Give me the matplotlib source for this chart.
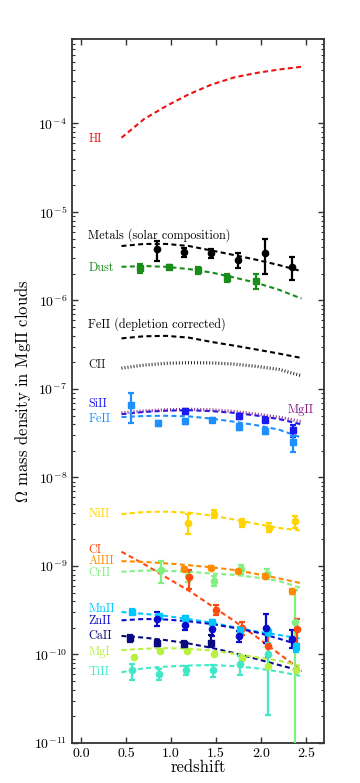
import numpy as np
import matplotlib
matplotlib.use("Agg")
import matplotlib.pyplot as plt
from matplotlib.ticker import LogLocator, NullFormatter, FixedLocator

plt.rcParams['font.family'] = 'serif'
plt.rcParams['font.serif'] = ['cmr10', 'DejaVu Serif']
plt.rcParams['mathtext.fontset'] = 'cm'
plt.rcParams['axes.formatter.use_mathtext'] = True

# ---------------- model curves (redshift grid) ----------------
z_model = [0.45, 0.70, 0.95, 1.20, 1.45, 1.70, 1.95, 2.20, 2.45]

HI_model     = [6.9e-5, 1.12e-4, 1.58e-4, 2.14e-4, 2.75e-4, 3.31e-4, 3.72e-4, 4.07e-4, 4.37e-4]
Metals_model = [4.12e-6, 4.35e-6, 4.35e-6, 4.12e-6, 3.67e-6, 3.26e-6, 2.88e-6, 2.51e-6, 2.14e-6]
Dust_model   = [2.40e-6, 2.45e-6, 2.40e-6, 2.26e-6, 2.07e-6, 1.82e-6, 1.58e-6, 1.32e-6, 1.05e-6]
FeIIdep_model= [3.73e-7, 3.94e-7, 3.98e-7, 3.80e-7, 3.40e-7, 3.09e-7, 2.79e-7, 2.51e-7, 2.24e-7]
CII_model    = [1.72e-7, 1.86e-7, 1.95e-7, 1.98e-7, 1.97e-7, 1.91e-7, 1.80e-7, 1.66e-7, 1.41e-7]
MgII_model   = [5.37e-8, 5.65e-8, 5.82e-8, 5.89e-8, 5.82e-8, 5.56e-8, 5.19e-8, 4.79e-8, 4.27e-8]
SiII_model   = [5.19e-8, 5.50e-8, 5.69e-8, 5.75e-8, 5.62e-8, 5.37e-8, 5.01e-8, 4.57e-8, 3.98e-8]
FeII_model   = [4.81e-8, 4.95e-8, 4.98e-8, 4.90e-8, 4.62e-8, 4.27e-8, 3.89e-8, 3.47e-8, 2.82e-8]
NiII_model   = [3.85e-9, 4.07e-9, 4.11e-9, 4.00e-9, 3.72e-9, 3.35e-9, 2.99e-9, 2.69e-9, 2.51e-9]
CI_model     = [1.45e-9, 1.05e-9, 7.4e-10, 5.25e-10, 3.55e-10, 2.4e-10, 1.58e-10, 1.02e-10, 6.6e-11]
AlIII_model  = [1.135e-9, 1.11e-9, 1.07e-9, 1.02e-9, 9.66e-10, 9.02e-10, 8.13e-10, 7.24e-10, 6.38e-10]
CrII_model   = [8.61e-10, 8.87e-10, 8.81e-10, 8.61e-10, 8.22e-10, 7.94e-10, 7.41e-10, 6.76e-10, 5.62e-10]
MnII_model   = [3.02e-10, 2.88e-10, 2.72e-10, 2.51e-10, 2.29e-10, 2.04e-10, 1.82e-10, 1.66e-10, 1.51e-10]
ZnII_model   = [2.43e-10, 2.52e-10, 2.48e-10, 2.37e-10, 2.21e-10, 2.00e-10, 1.78e-10, 1.51e-10, 1.26e-10]
CaII_model   = [1.62e-10, 1.55e-10, 1.45e-10, 1.33e-10, 1.19e-10, 1.04e-10, 8.9e-11, 7.6e-11, 6.5e-11]
MgI_model    = [1.12e-10, 1.16e-10, 1.18e-10, 1.16e-10, 1.11e-10, 1.02e-10, 9.3e-11, 8.5e-11, 7.4e-11]
TiII_model   = [6.3e-11, 7.0e-11, 7.3e-11, 7.5e-11, 7.6e-11, 7.4e-11, 7.0e-11, 6.4e-11, 5.7e-11]

# ---------------- measurements ----------------
Metals_z  = [0.85, 1.15, 1.44, 1.75, 2.05, 2.35]
Metals_v  = [3.8e-6, 3.5e-6, 3.4e-6, 2.9e-6, 3.45e-6, 2.4e-6]
Metals_hi = [4.7e-6, 3.95e-6, 3.8e-6, 3.4e-6, 4.9e-6, 3.1e-6]
Metals_lo = [2.8e-6, 3.1e-6, 3.0e-6, 2.35e-6, 2.0e-6, 1.7e-6]

Dust_z  = [0.66, 0.98, 1.30, 1.62, 1.94]
Dust_v  = [2.3e-6, 2.4e-6, 2.2e-6, 1.8e-6, 1.65e-6]
Dust_hi = [2.55e-6, 2.5e-6, 2.4e-6, 1.98e-6, 1.98e-6]
Dust_lo = [2.02e-6, 2.25e-6, 1.98e-6, 1.6e-6, 1.33e-6]

SiII_z  = [1.16, 1.76, 2.05, 2.36]
SiII_v  = [5.6e-8, 4.9e-8, 4.5e-8, 3.45e-8]
SiII_hi = [6.0e-8, 5.2e-8, 4.8e-8, 3.9e-8]
SiII_lo = [5.2e-8, 4.6e-8, 4.2e-8, 2.9e-8]

FeII_z  = [0.56, 0.86, 1.16, 1.46, 1.76, 2.05, 2.36]
FeII_v  = [6.6e-8, 4.1e-8, 4.3e-8, 4.45e-8, 3.7e-8, 3.35e-8, 2.5e-8]
FeII_hi = [8.9e-8, 4.4e-8, 4.6e-8, 4.7e-8, 4.0e-8, 3.6e-8, 2.95e-8]
FeII_lo = [4.1e-8, 3.8e-8, 4.0e-8, 4.2e-8, 3.4e-8, 3.1e-8, 1.95e-8]

NiII_z  = [1.19, 1.48, 1.79, 2.09, 2.38]
NiII_v  = [3.07e-9, 3.87e-9, 3.07e-9, 2.7e-9, 3.2e-9]
NiII_hi = [3.9e-9, 4.25e-9, 3.4e-9, 3.02e-9, 3.65e-9]
NiII_lo = [2.31e-9, 3.49e-9, 2.74e-9, 2.41e-9, 2.7e-9]

CI_z  = [1.20, 1.50, 1.79, 2.08, 2.40]
CI_v  = [7.5e-10, 3.2e-10, 1.98e-10, 1.25e-10, 1.94e-10]
CI_hi = [9.0e-10, 3.65e-10, 2.35e-10, 1.6e-10, 2.5e-10]
CI_lo = [5.5e-10, 2.8e-10, 1.65e-10, 9.3e-11, 1.3e-10]

AlIII_z  = [1.15, 1.44, 1.75, 2.05, 2.35]
AlIII_v  = [9.3e-10, 9.6e-10, 8.7e-10, 7.7e-10, 5.15e-10]
AlIII_hi = [9.7e-10, 1.0e-9, 9.1e-10, 8.1e-10, 5.5e-10]
AlIII_lo = [8.9e-10, 9.2e-10, 8.3e-10, 7.35e-10, 4.8e-10]

CrII_z  = [0.885, 1.185, 1.48, 1.78, 2.07, 2.38]
CrII_v  = [8.9e-10, 7.7e-10, 6.8e-10, 9.2e-10, 8.2e-10, 2.35e-10]
CrII_hi = [1.14e-9, 8.8e-10, 7.7e-10, 1.03e-9, 9.3e-10, 5.3e-10]
CrII_lo = [6.4e-10, 6.6e-10, 5.9e-10, 8.1e-10, 7.2e-10, 1e-13]

MnII_z  = [0.57, 0.87, 1.16, 1.46, 1.77, 2.08, 2.39]
MnII_v  = [3.05e-10, 2.7e-10, 2.56e-10, 2.3e-10, 1.9e-10, 1.78e-10, 1.2e-10]
MnII_hi = [3.25e-10, 2.9e-10, 2.7e-10, 2.45e-10, 2.05e-10, 1.95e-10, 1.32e-10]
MnII_lo = [2.85e-10, 2.5e-10, 2.42e-10, 2.15e-10, 1.75e-10, 1.62e-10, 1.08e-10]

ZnII_z  = [0.85, 1.16, 1.46, 1.76, 2.06, 2.35]
ZnII_v  = [2.5e-10, 2.15e-10, 1.94e-10, 1.63e-10, 2.0e-10, 1.5e-10]
ZnII_hi = [3.0e-10, 2.47e-10, 2.3e-10, 1.86e-10, 2.85e-10, 1.88e-10]
ZnII_lo = [2.1e-10, 1.9e-10, 1.62e-10, 1.38e-10, 1.35e-10, 1.17e-10]

CaII_z  = [0.54, 0.85, 1.15, 1.45]
CaII_v  = [1.52e-10, 1.35e-10, 1.3e-10, 1.35e-10]
CaII_hi = [1.65e-10, 1.45e-10, 1.42e-10, 1.68e-10]
CaII_lo = [1.40e-10, 1.26e-10, 1.2e-10, 1.2e-10]

MgI_z = [0.59, 0.88, 1.18, 1.48, 1.79, 2.08, 2.39]
MgI_v = [9.4e-11, 1.1e-10, 1.1e-10, 1.02e-10, 9.2e-11, 7.4e-11, 6.6e-11]

TiII_z  = [0.57, 0.87, 1.17, 1.47, 1.77, 2.08]
TiII_v  = [6.6e-11, 6.0e-11, 6.6e-11, 6.7e-11, 7.8e-11, 1.02e-10]
TiII_hi = [7.8e-11, 6.9e-11, 7.4e-11, 7.6e-11, 9.7e-11, 1.35e-10]
TiII_lo = [5.1e-11, 5.2e-11, 5.8e-11, 5.5e-11, 5.9e-11, 2.05e-11]

# labels
label_names = ["HI", "Metals (solar composition)", "Dust", "FeII (depletion corrected)",
               "CII", "SiII", "FeII", "NiII", "CI", "AlIII", "CrII", "MnII", "ZnII",
               "CaII", "MgI", "TiII"]
label_y = [6.6e-5, 5.5e-6, 2.35e-6, 5.4e-7, 1.85e-7, 6.7e-8, 4.6e-8, 3.84e-9, 1.5e-9,
           1.14e-9, 8.3e-10, 3.26e-10, 2.4e-10, 1.6e-10, 1.06e-10, 6.3e-11]

C = dict(HI='#ee1111', Metals='black', Dust='#1a8c1a', FeIIdep='black', CII='#222222',
         MgII='#8b1a8b', SiII='#1a1aee', FeII='#1e8fff', NiII='#ffd400', CI='#ff4a10',
         AlIII='#ff8a00', CrII='#80f080', MnII='#00c8ff', ZnII='#0a0acd', CaII='#0a0a80',
         MgI='#b8f040', TiII='#40e8c8')
label_colors = [C['HI'], C['Metals'], C['Dust'], C['FeIIdep'], C['CII'], C['SiII'], C['FeII'],
                C['NiII'], C['CI'], C['AlIII'], C['CrII'], C['MnII'], C['ZnII'], C['CaII'],
                C['MgI'], C['TiII']]

fig = plt.figure(figsize=(3.6, 7.83), dpi=100)
ax = fig.add_axes([0.2, 0.0511, 0.7, 0.8991])
ax.set_yscale('log')

dash = (0, (2.4, 1.6))
def curve(vals, col, ls=dash, lw=1.5, z=3):
    ax.plot(z_model, vals, color=col, ls=ls, lw=lw, zorder=z)

dots = (0, (0.3, 0.65))
curve(HI_model, C['HI'])
curve(Metals_model, C['Metals'])
curve(Dust_model, C['Dust'])
curve(FeIIdep_model, C['FeIIdep'])
curve(CII_model, C['CII'], ls=dots, lw=2.3)
curve(SiII_model, C['SiII'])
curve(MgII_model, C['MgII'], ls=dots, lw=2.3, z=3.5)
curve(FeII_model, C['FeII'])
curve(NiII_model, C['NiII'])
curve(CI_model, C['CI'])
curve(AlIII_model, C['AlIII'])
curve(CrII_model, C['CrII'])
curve(MnII_model, C['MnII'])
curve(ZnII_model, C['ZnII'])
curve(CaII_model, C['CaII'])
curve(MgI_model, C['MgI'])
curve(TiII_model, C['TiII'])

def pts(zs, v, hi, lo, col, mk='o', ms=4.5):
    v = np.array(v); hi = np.array(hi); lo = np.array(lo)
    ax.errorbar(zs, v, yerr=[v - lo, hi - v], fmt=mk, color=col, ms=ms, mec=col,
                elinewidth=1.6, capsize=2.5, capthick=1.6, zorder=5)

pts(Metals_z, Metals_v, Metals_hi, Metals_lo, C['Metals'])
pts(Dust_z, Dust_v, Dust_hi, Dust_lo, C['Dust'], 's', 4.2)
pts(SiII_z, SiII_v, SiII_hi, SiII_lo, C['SiII'], 's', 4.2)
pts(FeII_z, FeII_v, FeII_hi, FeII_lo, C['FeII'], 's', 4.2)
pts(NiII_z, NiII_v, NiII_hi, NiII_lo, C['NiII'])
pts(CrII_z, CrII_v, CrII_hi, CrII_lo, C['CrII'])
pts(AlIII_z, AlIII_v, AlIII_hi, AlIII_lo, C['AlIII'])
pts(CI_z, CI_v, CI_hi, CI_lo, C['CI'])
pts(MnII_z, MnII_v, MnII_hi, MnII_lo, C['MnII'], 's', 4.2)
pts(ZnII_z, ZnII_v, ZnII_hi, ZnII_lo, C['ZnII'])
pts(CaII_z, CaII_v, CaII_hi, CaII_lo, C['CaII'], 's', 4.2)
pts(TiII_z, TiII_v, TiII_hi, TiII_lo, C['TiII'])
ax.plot(MgI_z, MgI_v, 'o', color=C['MgI'], ms=4.5, zorder=5)

for name, yv, col in zip(label_names, label_y, label_colors):
    ax.text(0.08, yv, name, color=col, fontsize=8.8, ha='left', va='center')
ax.text(2.30, 5.85e-8, "MgII", color=C['MgII'], fontsize=8.8, ha='left', va='center')

ax.set_xlim(-0.1, 2.7)
ax.set_ylim(1e-11, 9e-4)
ax.xaxis.set_major_locator(FixedLocator([0.0, 0.5, 1.0, 1.5, 2.0, 2.5]))
ax.set_xticklabels(["0.0", "0.5", "1.0", "1.5", "2.0", "2.5"])
ax.yaxis.set_major_locator(LogLocator(base=10, numticks=20))
ax.yaxis.set_minor_locator(LogLocator(base=10, subs=np.arange(2, 10), numticks=20))
ax.yaxis.set_minor_formatter(NullFormatter())
ax.tick_params(which='both', direction='in', top=True, right=True, labelsize=10, color='#333333')
ax.tick_params(which='major', length=4, width=1)
ax.tick_params(which='minor', length=2.5, width=0.8)
for s in ax.spines.values():
    s.set_linewidth(1.3)
    s.set_color('#333333')

ax.set_xlabel("redshift", fontsize=12)
ax.xaxis.set_label_coords(0.5, -0.024)
ax.set_ylabel(r"$\Omega$ mass density in MgII clouds", fontsize=12)
ax.yaxis.set_label_coords(-0.155, 0.5)

fig.savefig("out.png", dpi=100)
